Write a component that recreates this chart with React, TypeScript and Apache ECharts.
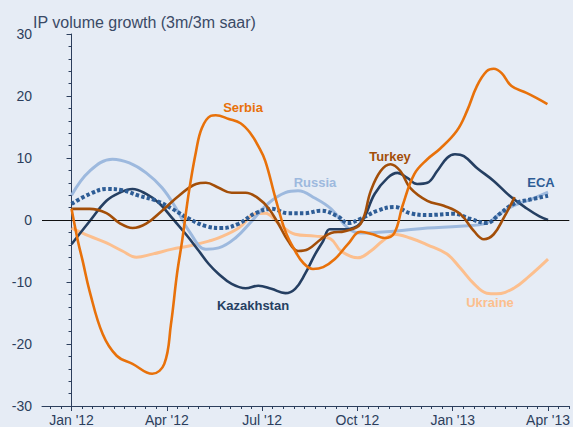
import React, { useEffect, useRef } from "react";
import * as echarts from "echarts";

// x = months since Jan '12 (0 = Jan '12, 15 = Apr '13), y = % growth
const tickMonths = [0, 3, 6, 9, 12, 15];
const tickLabels = ["Jan '12", "Apr '12", "Jul '12", "Oct '12", "Jan '13", "Apr '13"];

const serbia: [number, number][] = [
  [0, 1.8], [0.2, -3.4], [0.35, -6.6], [0.57, -11.5], [0.98, -18.4], [1.42, -21.9],
  [1.92, -23.2], [2.54, -24.8], [2.92, -23.2], [3.13, -16.8], [3.32, -8.7], [3.48, -3.4],
  [3.7, 4.7], [3.92, 11.1], [4.1, 14.8], [4.38, 16.8], [4.54, 16.9], [4.95, 16.3],
  [5.32, 15.6], [5.63, 14.0], [5.88, 11.9], [6.1, 9.5], [6.42, 3.5], [6.73, -1.8],
  [7.04, -5.0], [7.29, -6.9], [7.6, -7.9], [7.92, -7.6], [8.29, -6.3], [8.7, -3.9],
  [9.1, -1.9], [9.48, -2.3], [9.85, -2.9], [10.16, -2.1], [10.42, 2.3], [10.79, 7.4],
  [11.2, 9.8], [11.6, 11.5], [12.13, 14.4], [12.45, 17.6], [12.76, 21.6], [13.07, 24.0],
  [13.29, 24.4], [13.54, 23.7], [13.85, 21.6], [14.32, 20.5], [14.63, 19.7], [14.98, 18.7],
];

const kazakhstan: [number, number][] = [
  [0, -3.9], [0.57, -0.2], [1.1, 3.1], [1.51, 4.4], [1.92, 5.0], [2.35, 4.2], [2.76, 2.7],
  [3.17, 0.3], [3.6, -2.3], [4.01, -5.0], [4.32, -7.1], [4.63, -8.7], [5.04, -10.3],
  [5.48, -11.0], [5.88, -10.6], [6.29, -11.1], [6.73, -11.8], [7.04, -11.1], [7.35, -8.7],
  [7.67, -5.5], [7.92, -3.4], [8.13, -1.5], [8.6, -1.5], [9.1, -0.5], [9.54, 4.2],
  [9.95, 6.8], [10.26, 7.6], [10.57, 6.8], [10.88, 5.8], [11.2, 6.0], [11.51, 7.9],
  [11.82, 10.0], [12.07, 10.6], [12.35, 10.3], [12.76, 8.4], [13.29, 6.3], [13.79, 3.9],
  [14.32, 1.9], [14.73, 0.6], [15.0, 0],
];

const russia: [number, number][] = [
  [0, 4.0], [0.57, 7.9], [1.29, 9.8], [1.82, 9.2], [2.35, 7.6], [2.85, 5.2], [3.29, 1.9],
  [3.7, -1.8], [4.23, -4.7], [4.63, -4.5], [5.16, -2.9], [5.67, -0.2], [6.2, 2.7],
  [6.73, 4.4], [7.13, 4.7], [7.67, 3.5], [8.17, 1.8], [8.7, -1.3], [9.1, -2.1],
  [10.16, -1.8], [11.2, -1.3], [12.23, -1.0], [13.07, -0.5], [13.48, 1.0], [13.92, 2.3],
  [14.54, 3.5], [15.0, 4.5],
];

const turkey: [number, number][] = [
  [0, 1.8], [0.57, 1.8], [1.1, 1.1], [1.51, -0.5], [1.92, -1.3], [2.35, -0.6], [2.85, 1.5],
  [3.38, 3.9], [3.92, 5.8], [4.23, 6.0], [4.63, 5.2], [5.04, 4.4], [5.48, 4.4], [5.88, 3.5],
  [6.2, 1.9], [6.51, -0.6], [6.82, -3.4], [7.13, -5.0], [7.45, -4.7], [7.85, -3.1],
  [8.17, -2.1], [8.6, -1.8], [9.1, -0.6], [9.42, 4.7], [9.73, 7.9], [10.04, 9.0],
  [10.35, 7.9], [10.66, 5.2], [11.2, 3.1], [11.72, 2.3], [12.23, 1.0], [12.67, -1.8],
  [12.98, -3.1], [13.29, -2.3], [13.6, 0.3], [13.95, 3.7],
];

const eca: [number, number][] = [
  [0, 2.6], [0.57, 4.2], [1.1, 5.0], [1.6, 4.8], [2.13, 3.9], [2.67, 3.1], [3.17, 1.8],
  [3.7, 0.2], [4.23, -1.0], [4.73, -1.3], [5.26, -0.6], [5.79, 1.1], [6.29, 1.8],
  [6.82, 1.1], [7.35, 1.1], [7.85, 1.5], [8.38, 0.6], [8.7, -0.5], [9.1, 0.2], [9.63, 1.5],
  [10.16, 2.1], [10.66, 1.1], [11.2, 0.8], [12.04, 1.0], [12.54, 0.2], [13.07, -0.5],
  [13.48, 1.0], [13.92, 2.6], [14.54, 3.4], [15.0, 3.9],
];

const ukraine: [number, number][] = [
  [0, -1.3], [0.57, -2.6], [1.1, -3.7], [1.6, -5.0], [2.04, -6.0], [2.54, -5.5],
  [3.17, -4.7], [3.7, -4.2], [4.32, -3.4], [4.63, -2.9], [5.26, -1.3], [5.79, 1.0],
  [6.1, 1.1], [6.51, -0.5], [7.04, -2.3], [7.67, -2.6], [8.17, -3.1], [8.48, -5.0],
  [9.01, -6.1], [9.42, -5.0], [9.79, -3.4], [10.16, -2.3], [10.66, -2.9], [11.2, -4.0],
  [11.82, -5.5], [12.23, -7.7], [12.67, -10.3], [13.07, -11.8], [13.38, -11.9],
  [13.92, -11.0], [14.42, -9.0], [15.0, -6.3],
];

const minorTickMonths: number[] = [];
for (let k = -2; k <= 47; k++) minorTickMonths.push(k / 3);

const C = {
  serbia: "#e8710a",
  turkey: "#a34e08",
  kazakhstan: "#253f62",
  russia: "#9db9de",
  eca: "#2e5d96",
  ukraine: "#fcbf8e",
  axis: "#2c3e5c",
  bg: "#e6ecf5",
};

const FONT = "'Liberation Sans', Arial, sans-serif";

export default function App() {
  const ref = useRef<HTMLDivElement>(null);
  useEffect(() => {
    document.body.style.margin = "0";
    const chart = echarts.init(ref.current!, null, { renderer: "svg" });
    const line = (name: string, data: [number, number][], color: string, width: number, type: any = "solid", z = 2) => ({
      name,
      type: "line",
      data,
      smooth: 0.4,
      showSymbol: false,
      symbol: "none",
      z,
      lineStyle: { color, width, type, cap: "butt" },
    });
    const series: any[] = [
      line("Ukraine", ukraine, C.ukraine, 3, "solid", 2),
      line("Russia", russia, C.russia, 3, "solid", 3),
      line("Kazakhstan", kazakhstan, C.kazakhstan, 2.6, "solid", 4),
      line("ECA", eca, C.eca, 4, [3.5, 2.2], 5),
      line("Turkey", turkey, C.turkey, 2.6, "solid", 6),
      line("Serbia", serbia, C.serbia, 2.6, "solid", 7),
    ];
    series[0].markLine = {
      silent: true,
      symbol: "none",
      label: { show: false },
      lineStyle: { color: "#111", width: 1, type: "solid" },
      data: [{ yAxis: 0 }],
    };
    const lbl = (text: string, x: number, y: number, color: string) => ({
      type: "text",
      x,
      y,
      z: 100,
      style: {
        text,
        fill: color,
        font: `bold 13px ${FONT}`,
        textAlign: "center",
        textVerticalAlign: "middle",
      },
    });
    chart.setOption({
      animation: false,
      backgroundColor: C.bg,
      textStyle: { fontFamily: FONT },
      grid: { left: 42, top: 34, right: 0, bottom: 21, containLabel: false },
      xAxis: [
        {
          type: "value",
          min: -0.93,
          max: 15.67,
          position: "bottom",
          axisLine: { onZero: false, lineStyle: { color: C.axis, width: 1 } },
          axisTick: { show: true, length: 5, customValues: tickMonths, lineStyle: { color: C.axis } },
          axisLabel: {
            customValues: tickMonths,
            formatter: (v: number) => tickLabels[tickMonths.indexOf(Math.round(v))] ?? "",
            color: C.axis,
            fontSize: 14,
            margin: 7,
            fontFamily: FONT,
          },
          splitLine: { show: false },
        },
        {
          type: "value",
          min: -0.93,
          max: 15.67,
          position: "bottom",
          axisLine: { show: false, onZero: false },
          axisTick: { show: true, length: 3, customValues: minorTickMonths, lineStyle: { color: C.axis } },
          axisLabel: { show: false },
          splitLine: { show: false },
        },
      ],
      yAxis: {
        type: "value",
        min: -30,
        max: 30,
        interval: 10,
        axisLine: { show: true, lineStyle: { color: C.axis, width: 1 } },
        axisTick: { show: true, length: 5, lineStyle: { color: C.axis } },
        minorTick: { show: true, splitNumber: 5, length: 3, lineStyle: { color: C.axis } },
        axisLabel: { color: C.axis, fontSize: 14, margin: 10, fontFamily: FONT },
        splitLine: { show: false },
      },
      series,
      graphic: [
        {
          type: "text",
          x: 33,
          y: 22,
          style: {
            text: "IP volume growth (3m/3m saar)",
            fill: "#3a4a66",
            font: `16px ${FONT}`,
            textVerticalAlign: "middle",
          },
        },
        lbl("Serbia", 243, 107, C.serbia),
        lbl("Russia", 315, 182, C.russia),
        lbl("Turkey", 390, 156, C.turkey),
        lbl("ECA", 541, 182, C.eca),
        lbl("Kazakhstan", 253, 305, C.kazakhstan),
        lbl("Ukraine", 490, 302, C.ukraine),
      ],
    });
    return () => chart.dispose();
  }, []);
  return <div ref={ref} style={{ width: 573, height: 427 }} />;
}
